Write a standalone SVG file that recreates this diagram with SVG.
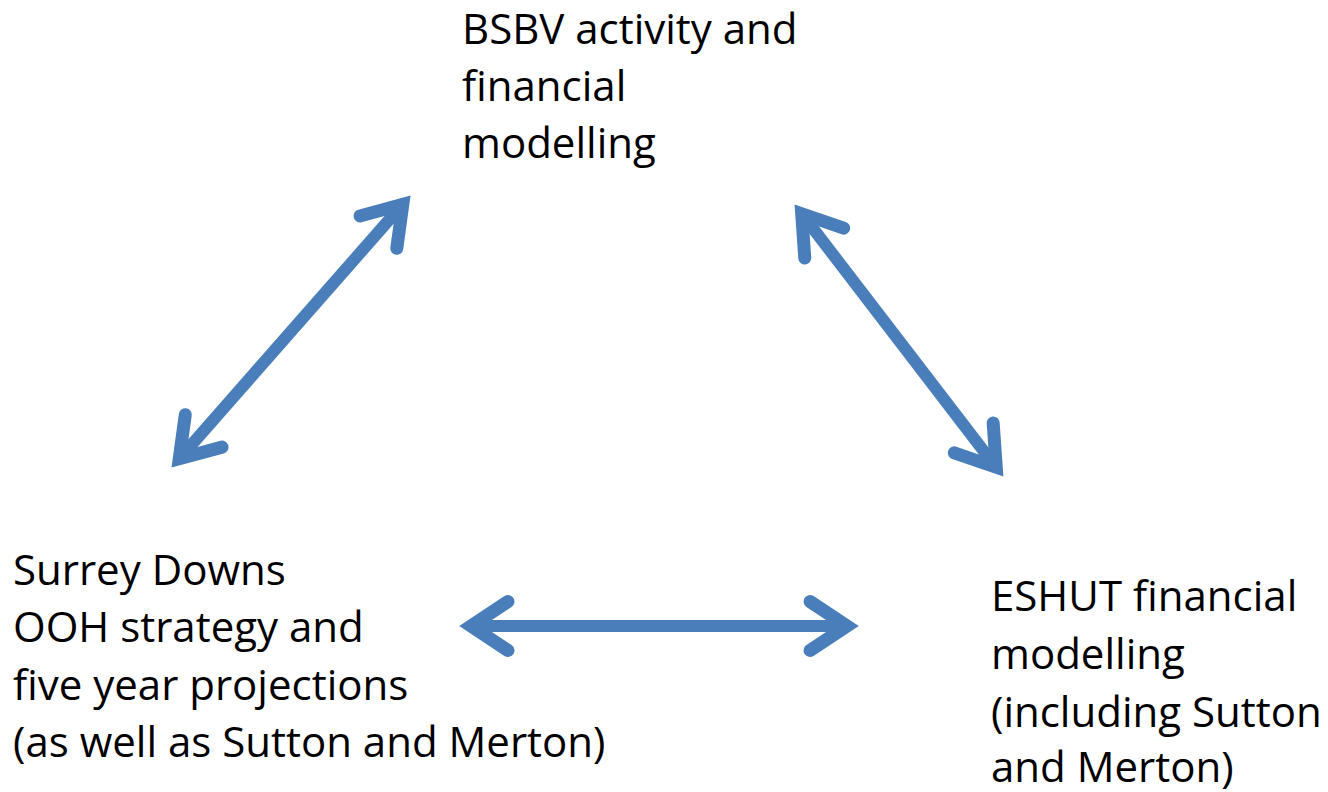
<svg xmlns="http://www.w3.org/2000/svg" width="1328" height="792" viewBox="0 0 1328 792">
<style>
.t{font-family:"Open Sans","Noto Sans",sans-serif;font-size:42px;fill:#000}
.sh{stroke:#4a7ebb;stroke-width:12;fill:none}
.hd{stroke:#4a7ebb;stroke-width:13;fill:none;stroke-linecap:round;stroke-linejoin:miter;stroke-miterlimit:10}
</style>
<rect width="1328" height="792" fill="#fff"/>
<g id="node-bsbv">
<text class="t" x="462" y="44">BSBV activity and</text>
<text class="t" x="462" y="101">financial</text>
<text class="t" x="462" y="158">modelling</text>
</g>
<g id="node-surrey">
<text class="t" x="13" y="585">Surrey Downs</text>
<text class="t" x="13" y="642">OOH strategy and</text>
<text class="t" x="13" y="700">five year projections</text>
<text class="t" x="13" y="757">(as well as Sutton and Merton)</text>
</g>
<g id="node-eshut">
<text class="t" x="991" y="611">ESHUT financial</text>
<text class="t" x="991" y="669">modelling</text>
<text class="t" x="991" y="727">(including Sutton</text>
<text class="t" x="991" y="782">and Merton)</text>
</g>
<g id="connectors">
<g transform="translate(172,467) rotate(-48.7)">
<line class="sh" x1="11" y1="0" x2="349.7" y2="0"/>
<polyline class="hd" points="48,-24.5 11,0 48,24.5"/>
<polyline class="hd" points="312.7,-24.5 349.7,0 312.7,24.5"/>
</g>
<g transform="translate(795,205) rotate(52.5)">
<line class="sh" x1="11" y1="0" x2="330.6" y2="0"/>
<polyline class="hd" points="48,-24.5 11,0 48,24.5"/>
<polyline class="hd" points="293.6,-24.5 330.6,0 293.6,24.5"/>
</g>
<g transform="translate(460,626)">
<line class="sh" x1="11" y1="0" x2="387" y2="0"/>
<polyline class="hd" points="48,-24.5 11,0 48,24.5"/>
<polyline class="hd" points="350,-24.5 387,0 350,24.5"/>
</g>
</g>
</svg>
